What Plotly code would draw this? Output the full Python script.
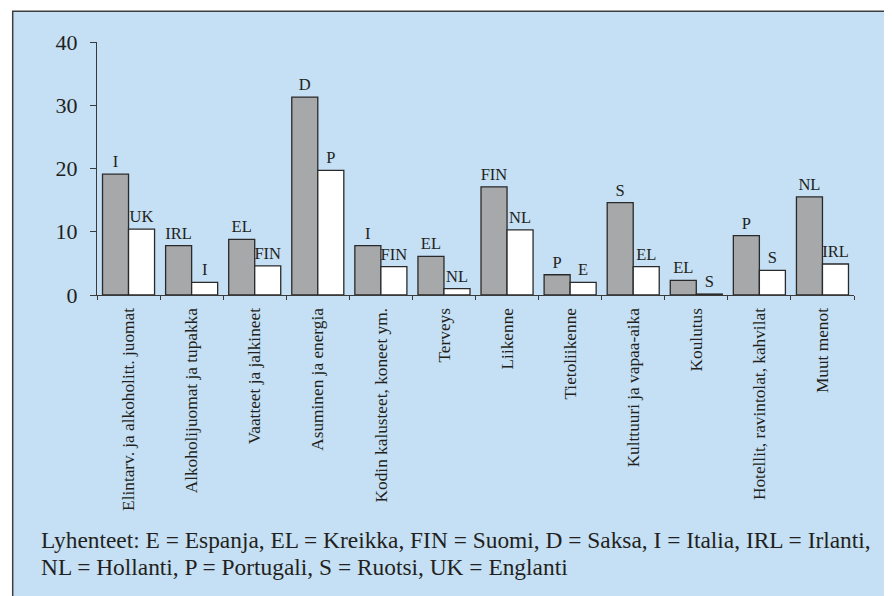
import plotly.graph_objects as go

categories = [
    "Elintarv. ja alkoholitt. juomat",
    "Alkoholijuomat ja tupakka",
    "Vaatteet ja jalkineet",
    "Asuminen ja energia",
    "Kodin kalusteet, koneet ym.",
    "Terveys",
    "Liikenne",
    "Tietoliikenne",
    "Kulttuuri ja vapaa-aika",
    "Koulutus",
    "Hotellit, ravintolat, kahvilat",
    "Muut menot",
]
max_values = [19.1, 7.8, 8.8, 31.3, 7.8, 6.1, 17.1, 3.2, 14.6, 2.3, 9.4, 15.5]
max_labels = ["I", "IRL", "EL", "D", "I", "EL", "FIN", "P", "S", "EL", "P", "NL"]
min_values = [10.4, 2.0, 4.6, 19.7, 4.5, 1.0, 10.3, 2.0, 4.5, 0.15, 3.9, 4.9]
min_labels = ["UK", "I", "FIN", "P", "FIN", "NL", "NL", "E", "EL", "S", "S", "IRL"]
y_ticks = [0, 10, 20, 30, 40]
footnote = [
    "Lyhenteet: E = Espanja, EL = Kreikka, FIN = Suomi, D = Saksa, I = Italia, IRL = Irlanti,",
    "NL = Hollanti, P = Portugali, S = Ruotsi, UK = Englanti",
]

# page body has an 8px margin; compensate
OFF = 8
W, H = 892 - OFF, 596 - OFF
FONT = "Liberation Serif"
TXT = "#231f20"
EDGE = "#2a2a2a"
BG = "#c5dff4"

# plot area in window pixels
PL, PR, PT, PB = 97 - OFF, 854 - OFF, 42.3 - OFF, 294.7 - OFF
pw, ph = PR - PL, PB - PT


def px_x(p):
    return (p - OFF - PL) / pw


def px_y(p):
    return (PB - (p - OFF)) / ph


fig = go.Figure()
fig.add_trace(go.Bar(
    x=categories, y=max_values, text=max_labels, name="max",
    marker=dict(color="#a6a8aa", line=dict(color=EDGE, width=1.3)),
    textposition="outside", cliponaxis=False, constraintext="none",
    textfont=dict(family=FONT, size=16.5, color=TXT),
))
fig.add_trace(go.Bar(
    x=categories, y=min_values, text=min_labels, name="min",
    marker=dict(color="white", line=dict(color=EDGE, width=1.3)),
    textposition="outside", cliponaxis=False, constraintext="none",
    textfont=dict(family=FONT, size=16.5, color=TXT),
))

fig.add_shape(
    type="rect", xref="paper", yref="paper", layer="below",
    x0=px_x(12.7), x1=px_x(889.5), y0=px_y(640), y1=px_y(11.5),
    fillcolor=BG, line=dict(color="#3e3e3e", width=1.5),
)

for i, line in enumerate(footnote):
    fig.add_annotation(
        text=line, xref="paper", yref="paper", showarrow=False,
        x=px_x(39), y=px_y(539 + 26.7 * i), xanchor="left", yanchor="middle",
        font=dict(family=FONT, size=23.4, color=TXT),
    )

fig.update_layout(
    width=W, height=H,
    margin=dict(l=PL, r=W - PR, t=PT, b=H - PB, pad=0),
    paper_bgcolor="white", plot_bgcolor="rgba(0,0,0,0)",
    barmode="group", bargap=0.175, bargroupgap=0,
    showlegend=False,
    font=dict(family=FONT, color=TXT),
)
fig.update_yaxes(
    range=[0, 40], tickvals=y_ticks, showgrid=False, zeroline=False,
    showline=True, linecolor="#3a3a3a", linewidth=1.3,
    ticks="outside", ticklen=6, tickcolor="#3a3a3a", tickwidth=1.3,
    tickfont=dict(family=FONT, size=22, color=TXT), ticklabelstandoff=8,
)
fig.update_xaxes(
    showgrid=False, showline=True, linecolor="#3a3a3a", linewidth=1.3,
    ticks="outside", tickson="boundaries", ticklen=4, tickcolor="#3a3a3a", tickwidth=1.3,
    tickangle=-90, tickfont=dict(family=FONT, size=17.3, color=TXT), ticklabelstandoff=5,
)

fig.write_html("out.html")
